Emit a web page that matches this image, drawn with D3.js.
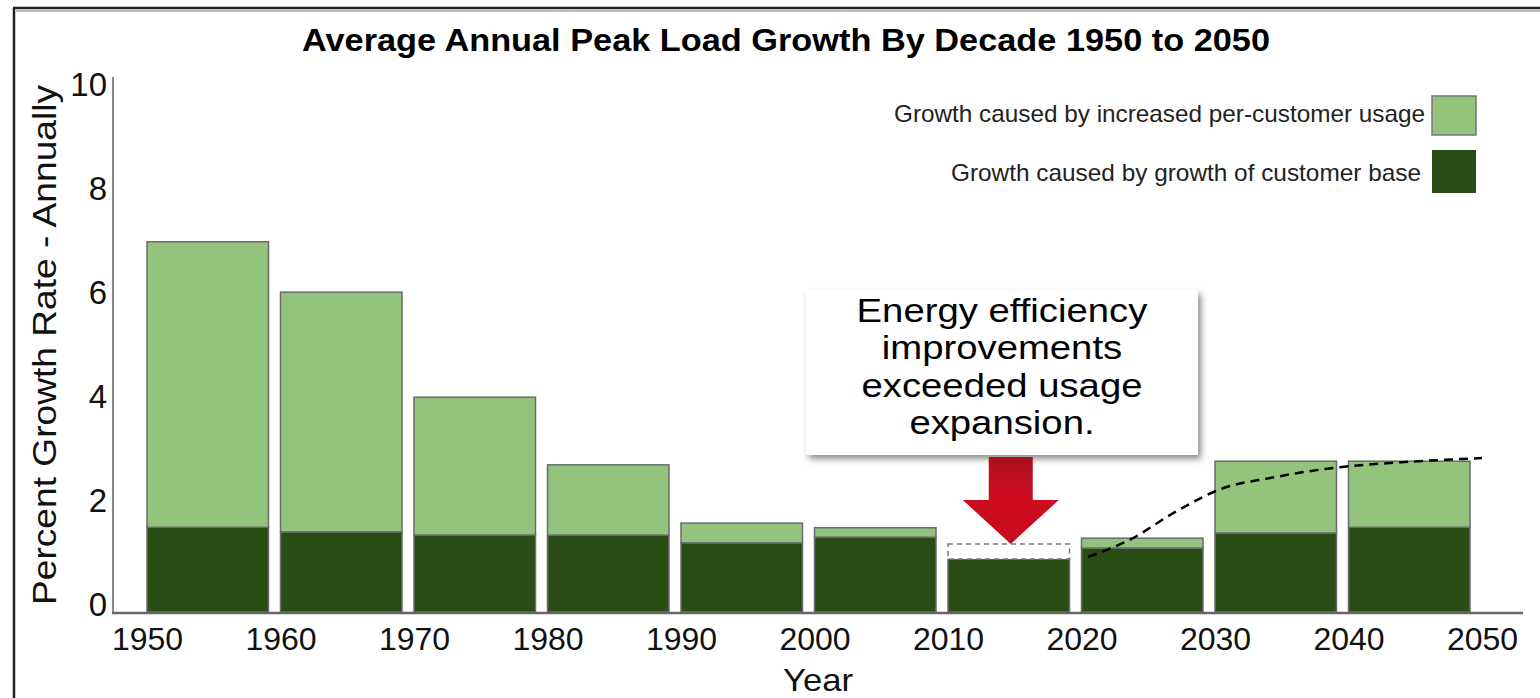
<!DOCTYPE html>
<html>
<head>
<meta charset="utf-8">
<script src="https://cdn.jsdelivr.net/npm/d3@7"></script>
<style>
  html, body { margin: 0; padding: 0; background: #ffffff; }
  svg { display: block; font-family: "Liberation Sans", Arial, sans-serif; }
</style>
</head>
<body>
<svg id="chart" width="1540" height="698"></svg>
<script>
// ---- data ----
const decades = [1950, 1960, 1970, 1980, 1990, 2000, 2010, 2020, 2030, 2040];
const customerBase = [1.63, 1.54, 1.48, 1.48, 1.33, 1.44, 1.02, 1.23, 1.52, 1.63];
const perCustomer = [5.49, 4.61, 2.65, 1.35, 0.38, 0.18, 0.00, 0.19, 1.38, 1.27];
const efficiencyGap = [0, 0, 0, 0, 0, 0, 0.29, 0, 0, 0];
const yTicks = [0, 2, 4, 6, 8, 10];
const xTicks = [1950, 1960, 1970, 1980, 1990, 2000, 2010, 2020, 2030, 2040, 2050];
const trendYears = [2020.5, 2023.7, 2027.0, 2030.5, 2034.2, 2039.5, 2044.0, 2050];
const trendValues = [1.06, 1.40, 1.92, 2.37, 2.58, 2.79, 2.88, 2.96];
const legendLabels = ["Growth caused by increased per-customer usage", "Growth caused by growth of customer base"];
const titleText = "Average Annual Peak Load Growth By Decade 1950 to 2050";
const calloutLines = ["Energy efficiency", "improvements", "exceeded usage", "expansion."];

const lightGreen = "#93c47d";
const darkGreen = "#2a4d16";
const barStroke = "#6b6b6b";

const svg = d3.select("#chart");

// defs
const defs = svg.append("defs");
const f = defs.append("filter").attr("id", "shadow").attr("x", "-10%").attr("y", "-10%").attr("width", "130%").attr("height", "140%");
f.append("feDropShadow").attr("dx", 3).attr("dy", 4).attr("stdDeviation", 3).attr("flood-color", "#000").attr("flood-opacity", 0.45);
const grad = defs.append("linearGradient").attr("id", "redgrad").attr("x1", 0).attr("y1", 0).attr("x2", 0).attr("y2", 1);
grad.append("stop").attr("offset", "0%").attr("stop-color", "#a8101c");
grad.append("stop").attr("offset", "45%").attr("stop-color", "#cf0d21");
grad.append("stop").attr("offset", "100%").attr("stop-color", "#c70a1c");

// frame
svg.append("line").attr("x1", 14).attr("x2", 14).attr("y1", 8).attr("y2", 698).attr("stroke", "#222").attr("stroke-width", 2.5);
svg.append("line").attr("x1", 13).attr("x2", 1540).attr("y1", 8).attr("y2", 8).attr("stroke", "#222").attr("stroke-width", 2.5);
svg.append("line").attr("x1", 16).attr("x2", 1540).attr("y1", 11).attr("y2", 11).attr("stroke", "#bbb").attr("stroke-width", 2);

// scales
const x = d3.scaleLinear().domain([1950, 2050]).range([147, 1482]);
const y = d3.scaleLinear().domain([0, 10]).range([612, 92]);
const barGap = 12;

// stretch helper (reference type is set horizontally wider than Liberation Sans)
function stretch(sel, factor) {
  sel.each(function () {
    const w = this.getComputedTextLength();
    d3.select(this).attr("textLength", w * factor).attr("lengthAdjust", "spacingAndGlyphs");
  });
}

// title
svg.append("text").attr("x", 786).attr("y", 51).attr("text-anchor", "middle")
  .attr("font-size", 32).attr("font-weight", "bold").attr("fill", "#000")
  .attr("textLength", 968).attr("lengthAdjust", "spacingAndGlyphs").text(titleText);

// bars
const g = svg.append("g");
decades.forEach((d, i) => {
  const x0 = x(d), x1 = x(d + 10) - barGap;
  const base = customerBase[i];
  const total = base + perCustomer[i];
  g.append("rect").attr("x", x0).attr("y", y(base)).attr("width", x1 - x0).attr("height", y(0) - y(base))
    .attr("fill", darkGreen).attr("stroke", barStroke).attr("stroke-width", 1.5);
  if (perCustomer[i] > 0) {
    g.append("rect").attr("x", x0).attr("y", y(total)).attr("width", x1 - x0).attr("height", y(base) - y(total))
      .attr("fill", lightGreen).attr("stroke", barStroke).attr("stroke-width", 1.5);
  }
  if (efficiencyGap[i] > 0) {
    g.append("rect").attr("x", x0).attr("y", y(base + efficiencyGap[i])).attr("width", x1 - x0)
      .attr("height", y(base) - y(base + efficiencyGap[i]))
      .attr("fill", "#fff").attr("stroke", "#777").attr("stroke-width", 1.5).attr("stroke-dasharray", "5,4");
  }
});

// axes
const yAxis = d3.axisLeft(y).tickValues(yTicks).tickSize(0).tickPadding(6).tickFormat(d3.format("d"));
const yg = svg.append("g").attr("transform", `translate(113,0)`).call(yAxis);
yg.select(".domain").remove();
yg.selectAll("text").attr("font-size", 33).attr("font-family", "Liberation Sans, Arial, sans-serif")
  .attr("fill", "#111").attr("transform", "translate(0,-7)");
svg.append("line").attr("x1", 113).attr("x2", 113).attr("y1", 77).attr("y2", 613).attr("stroke", "#888").attr("stroke-width", 2);

const xAxis = d3.axisBottom(x).tickValues(xTicks).tickSize(0).tickPadding(13).tickFormat(d3.format("d"));
const xg = svg.append("g").attr("transform", `translate(0,613)`).call(xAxis);
xg.select(".domain").remove();
xg.selectAll("text").attr("font-size", 32).attr("font-family", "Liberation Sans, Arial, sans-serif").attr("fill", "#111").attr("dy", "0.75em");
svg.append("line").attr("x1", 112).attr("x2", 1523).attr("y1", 613).attr("y2", 613).attr("stroke", "#666").attr("stroke-width", 2.5);

// axis titles
svg.append("text").attr("x", 818).attr("y", 691).attr("text-anchor", "middle").attr("font-size", 32).attr("fill", "#111")
  .attr("textLength", 70).attr("lengthAdjust", "spacingAndGlyphs").text("Year");
svg.append("text").attr("transform", "translate(56,345) rotate(-90)").attr("text-anchor", "middle")
  .attr("font-size", 33).attr("fill", "#111")
  .attr("textLength", 520).attr("lengthAdjust", "spacingAndGlyphs").text("Percent Growth Rate - Annually");

// trend line
const line = d3.line().x((d, i) => x(trendYears[i])).y((d, i) => y(trendValues[i])).curve(d3.curveMonotoneX);
svg.append("path").datum(trendValues).attr("d", line).attr("fill", "none").attr("stroke", "#000")
  .attr("stroke-width", 2.5).attr("stroke-dasharray", "9,6");

// legend
const legendItems = [
  { label: legendLabels[0], color: lightGreen, y: 96, ty: 122, w: 531, tx: 1425 },
  { label: legendLabels[1], color: darkGreen, y: 150, ty: 181, w: 470, tx: 1421 }
];
legendItems.forEach((it, i) => {
  svg.append("rect").attr("x", 1432).attr("y", it.y).attr("width", 44).attr("height", i === 0 ? 39 : 43)
    .attr("fill", it.color).attr("stroke", i === 0 ? "#777" : "none").attr("stroke-width", 1.5);
  svg.append("text").attr("x", it.tx).attr("y", it.ty).attr("text-anchor", "end")
    .attr("font-size", 24).attr("fill", "#222")
    .attr("textLength", it.w).attr("lengthAdjust", "spacingAndGlyphs").text(it.label);
});

// callout box
svg.append("rect").attr("x", 806).attr("y", 290).attr("width", 392).attr("height", 165)
  .attr("fill", "#fff").attr("filter", "url(#shadow)");
const cl = svg.append("g").selectAll("text").data(calloutLines).join("text")
  .attr("x", 1002).attr("y", (d, i) => 322 + i * 37.3).attr("text-anchor", "middle")
  .attr("font-size", 33).attr("fill", "#000").text(d => d);
stretch(cl, 1.16);

// red arrow (points at the 2010 decade bar)
const ax = x(2015) - 4, tipY = y(customerBase[6] + efficiencyGap[6]);
const arrowPts = [
  [ax - 22, 457], [ax + 22, 457], [ax + 22, 500], [ax + 48, 500], [ax, tipY], [ax - 48, 500], [ax - 22, 500]
];
svg.append("path").attr("d", "M" + arrowPts.map(p => p.join(",")).join("L") + "Z").attr("fill", "url(#redgrad)");
</script>
</body>
</html>
